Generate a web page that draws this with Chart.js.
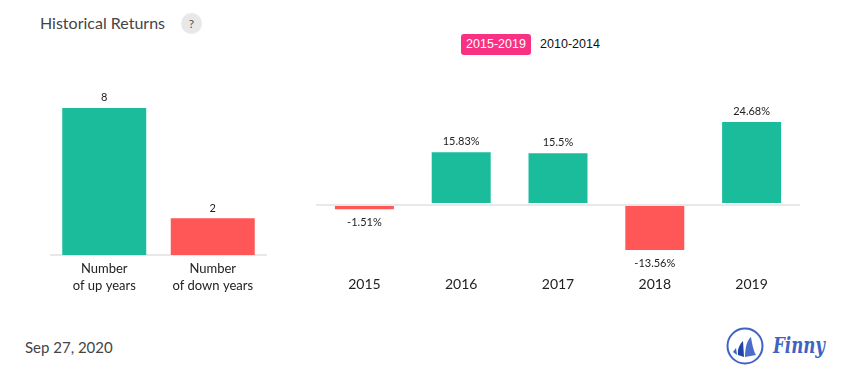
<!DOCTYPE html>
<html>
<head>
<meta charset="utf-8">
<title>Historical Returns</title>
<script src="https://cdn.jsdelivr.net/npm/chart.js@4"></script>
<style>
    html, body { margin: 0; padding: 0; background: #fff; }
    body { width: 855px; height: 382px; position: relative; overflow: hidden; font-family: Lato, sans-serif; }
    canvas { position: absolute; }
    #title { position: absolute; left: 40px; top: 13px; font-size: 16px; line-height: 20px; color: #444; }
    #help { position: absolute; left: 181px; top: 13px; width: 21px; height: 21px; line-height: 21px; border-radius: 50%; background: #e8e8e8; color: #555; font-size: 12px; text-align: center; }
    .period { position: absolute; top: 34px; height: 21px; line-height: 21px; font-family: "Liberation Sans", sans-serif; font-size: 12.5px; text-align: center; border-radius: 3px; }
    #periodOn { left: 461px; width: 70px; background: #f93182; color: #fff; }
    #periodOff { left: 531px; width: 78px; color: #111; }
    #date { position: absolute; left: 25px; top: 337px; font-size: 15px; line-height: 20px; color: #444; }
    #logo { position: absolute; left: 720px; top: 320px; }
</style>
</head>
<body>
<div id="title">Historical Returns</div>
<div id="help">?</div>
<div class="period" id="periodOn">2015-2019</div>
<div class="period" id="periodOff">2010-2014</div>
<canvas id="countChart" width="217" height="229" style="left:50px;top:71px"></canvas>
<canvas id="returnChart" width="484" height="210" style="left:316px;top:90px"></canvas>
<div id="date">Sep 27, 2020</div>
<svg id="logo" width="115" height="50" viewBox="0 0 115 50">
    <circle cx="25" cy="26" r="17.5" fill="none" stroke="#3f62c4" stroke-width="2"/>
    <path d="M13 32 L16 28 L17 35 Z" fill="#3f62c4"/>
    <path d="M18 35 C17 29 20 24 23 21 L24 37 Z" fill="#1f44a8"/>
    <path d="M25 37 C25 28 27 20 31 17 C32 24 34 32 36 35 Z" fill="#4a6cca"/>
    <text x="53" y="33" font-family="'DejaVu Serif', serif" font-style="italic" font-weight="bold" font-size="22" textLength="52" lengthAdjust="spacingAndGlyphs" fill="#3f62c4">Finny</text>
</svg>
<script>
const countLabels = [['Number', 'of up years'], ['Number', 'of down years']];
const countValues = [8, 2];
const years = ['2015', '2016', '2017', '2018', '2019'];
const returnValues = [-1.51, 15.83, 15.5, -13.56, 24.68];

const GREEN = '#1abc9c';
const RED = '#ff5757';
const AXIS = '#e8e8e8';

// writes the value above or below each bar
const valueLabels = {
    id: 'valueLabels',
    afterDatasetsDraw(chart, args, opts) {
        const { ctx } = chart;
        const dataset = chart.data.datasets[0];
        ctx.save();
        ctx.font = '11px Lato';
        ctx.fillStyle = '#222';
        ctx.textAlign = 'center';
        ctx.textBaseline = 'middle';
        chart.getDatasetMeta(0).data.forEach((bar, i) => {
            const value = dataset.data[i];
            const y = value < 0 ? bar.y + 12 : bar.y - 10;
            ctx.fillText(value + opts.suffix, bar.x, y);
        });
        ctx.restore();
    }
};

const sharedX = (height, padding, size) => ({
    afterFit: scale => { scale.height = height; },
    grid: { display: false, drawTicks: false },
    ticks: { color: '#222', font: { family: 'Lato', size: size, lineHeight: 1.3 }, maxRotation: 0, padding: padding }
});

new Chart(document.getElementById('countChart'), {
    type: 'bar',
    data: {
        labels: countLabels,
        datasets: [{
            data: countValues,
            backgroundColor: [GREEN, RED],
            barPercentage: 0.774,
            categoryPercentage: 1
        }]
    },
    options: {
        responsive: false,
        animation: false,
        layout: { padding: 0 },
        plugins: { legend: { display: false }, tooltip: { enabled: false }, valueLabels: { suffix: '' } },
        scales: {
            x: { ...sharedX(45, 5, 13), border: { color: AXIS, width: 2 } },
            y: { display: false, min: 0, max: 10.01 }
        }
    },
    plugins: [valueLabels]
});

new Chart(document.getElementById('returnChart'), {
    type: 'bar',
    data: {
        labels: years,
        datasets: [{
            data: returnValues,
            backgroundColor: ctx => (ctx.raw >= 0 ? GREEN : RED),
            borderColor: '#fff',
            borderWidth: 1,
            borderSkipped: ctx => (ctx.raw >= 0 ? false : 'start'),
            barPercentage: 0.63,
            categoryPercentage: 1
        }]
    },
    options: {
        responsive: false,
        animation: false,
        layout: { padding: { top: 13 } },
        plugins: { legend: { display: false }, tooltip: { enabled: false }, valueLabels: { suffix: '%' } },
        scales: {
            x: { ...sharedX(27, 2, 14), border: { display: false } },
            y: {
                min: -20,
                max: 30,
                afterFit: scale => { scale.width = 0; },
                border: { display: false },
                ticks: { display: false, stepSize: 10 },
                grid: {
                    drawTicks: false,
                    lineWidth: 2,
                    color: ctx => (ctx.tick.value === 0 ? AXIS : 'transparent')
                }
            }
        }
    },
    plugins: [valueLabels]
});
</script>
</body>
</html>
